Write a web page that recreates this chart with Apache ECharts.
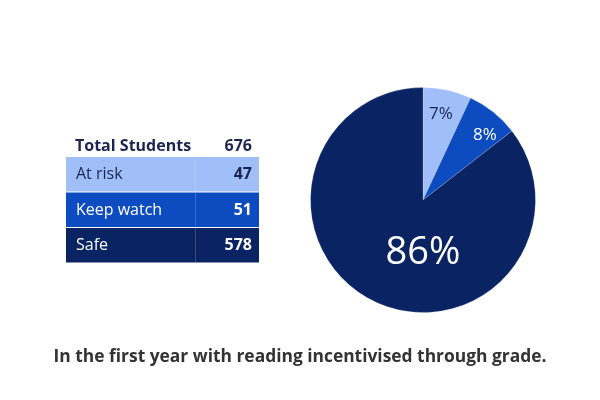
<!DOCTYPE html>
<html><head><meta charset="utf-8">
<script src="https://cdn.jsdelivr.net/npm/echarts@6/dist/echarts.min.js"></script>
<style>html,body{margin:0;padding:0;background:#fff}#c{width:600px;height:400px}</style>
</head><body><div id="c"></div>
<script>
var categories = ['At risk', 'Keep watch', 'Safe'];
var counts = [47, 51, 578];
var totalLabel = 'Total Students';
var caption = 'In the first year with reading incentivised through grade.';
var colors = ['#A0BEF8', '#0C4BC0', '#0A2463'];
var textColors = ['#1B2550', '#FFFFFF', '#FFFFFF'];

var total = counts.reduce(function(a, b){ return a + b; }, 0);
var FONT = '"Open Sans", sans-serif';

var chart = echarts.init(document.getElementById('c'), null, {renderer: 'canvas'});

var graphics = [];
graphics.push({type:'text', x:75, y:146, style:{text: totalLabel, font:'bold 16px ' + FONT, fill:'#1B2550', textVerticalAlign:'middle'}});
graphics.push({type:'text', x:252, y:146, style:{text: String(total), font:'bold 16px ' + FONT, fill:'#1B2550', textAlign:'right', textVerticalAlign:'middle'}});
var rowTop = 157, pitch = 35.5, rowH = 34.5;
categories.forEach(function(cat, i){
  var y = rowTop + i * pitch;
  graphics.push({type:'rect', shape:{x:66, y:y, width:193, height:rowH}, style:{fill: colors[i]}});
  graphics.push({type:'line', shape:{x1:195.5, y1:y, x2:195.5, y2:y + rowH}, style:{stroke:'rgba(255,255,255,0.18)', lineWidth:1}});
  graphics.push({type:'text', x:76, y:y + rowH/2 + 0.5, style:{text: cat, font:'16px ' + FONT, fill: textColors[i], textVerticalAlign:'middle'}});
  graphics.push({type:'text', x:252, y:y + rowH/2 + 0.5, style:{text: String(counts[i]), font:'bold 16px ' + FONT, fill: textColors[i], textAlign:'right', textVerticalAlign:'middle'}});
});
graphics.push({type:'text', x:300, y:357, style:{text: caption, font:'bold 17.4px ' + FONT, fill:'#333333', textAlign:'center', textVerticalAlign:'middle'}});

var labelStyles = [
  {fontSize:17, color:'#1B2550', offset:[5,-28]},
  {fontSize:17, color:'#FFFFFF', offset:[25,-19]},
  {fontSize:38, color:'#FFFFFF', offset:[26,0]}
];

chart.setOption({
  animation: false,
  graphic: graphics,
  series: [{
    type: 'pie',
    center: [423, 200],
    radius: [0, 112.5],
    startAngle: 90,
    clockwise: true,
    silent: true,
    itemStyle: {borderColor: 'rgba(255,255,255,0.35)', borderWidth: 0.5},
    label: {
      show: true,
      position: 'inside',
      fontFamily: FONT,
      formatter: function(p){ return Math.round(p.percent) + '%'; }
    },
    labelLine: {show: false},
    data: categories.map(function(cat, i){
      return {
        name: cat,
        value: counts[i],
        itemStyle: {color: colors[i]},
        label: labelStyles[i]
      };
    })
  }]
});
</script>
</body></html>
